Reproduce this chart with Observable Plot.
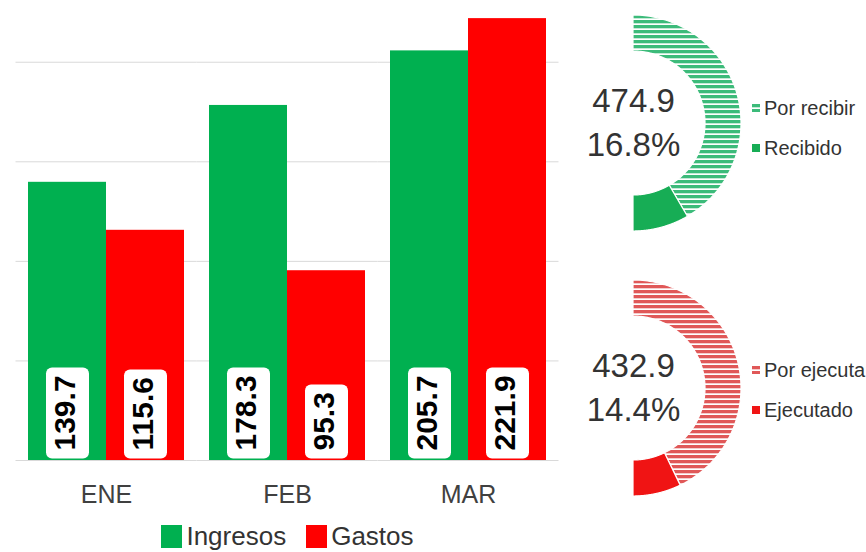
<!DOCTYPE html>
<html>
<head>
<meta charset="utf-8">
<script src="https://cdn.jsdelivr.net/npm/d3@7"></script>
<script src="https://cdn.jsdelivr.net/npm/@observablehq/plot@0.6"></script>
<style>
  body { margin: 0; background: #fff; }
  #root { position: relative; width: 866px; height: 552px; overflow: hidden; background: #fff; font-family: "Liberation Sans", Arial, sans-serif; }
  .abs { position: absolute; }
  .mlg-swatch > svg { margin-right: 4px; }
  .mlg-swatch { margin-right: 20px; }
  .mlg-swatch:last-child { margin-right: 0; }
  .glg0-swatch, .glg1-swatch { height: 40px; padding-bottom: 0; }
  .glg0-swatch > svg, .glg1-swatch > svg { margin-right: 4px; }
  .glg0-swatch-label, .glg1-swatch-label { overflow: visible !important; text-overflow: clip !important; }
</style>
</head>
<body>
<div id="root">
  <div id="bars" class="abs" style="left:0;top:0"></div>
  <div id="legend" class="abs" style="left:0;top:520px;width:575px;display:flex;justify-content:center"></div>
  <div id="g0" class="abs" style="left:560px;top:0"></div>
  <div id="g1" class="abs" style="left:560px;top:265px"></div>
  <div id="gl0" class="abs" style="left:752px;top:88px;width:200px"></div>
  <div id="gl1" class="abs" style="left:752px;top:350px;width:200px"></div>
</div>
<script>
// ---- data ----
const months = ["ENE", "FEB", "MAR"];
const series = ["Ingresos", "Gastos"];
const ingresos = [139.7, 178.3, 205.7];
const gastos = [115.6, 95.3, 221.9];
const yTicks = [0, 50, 100, 150, 200];
const barColors = ["#00b050", "#ff0000"];

const gaugeTotals = ["474.9", "432.9"];
const gaugePct = [16.8, 14.4];
const gaugeParts = [["Por recibir", "Recibido"], ["Por ejecutar", "Ejecutado"]];
const gaugeSolid = ["#17ad55", "#f01414"];
const gaugeStripe = ["#3cbb7a", "#e05858"];

const FONT = "Liberation Sans, Arial, sans-serif";

const table = months.flatMap((m, i) => [
  {month: m, series: series[0], value: ingresos[i]},
  {month: m, series: series[1], value: gastos[i]}
]);
const fmt = d => d.value.toFixed(1);

// measure label text to size the rounded boxes
const ctx = document.createElement("canvas").getContext("2d");
ctx.font = "bold 30px 'Liberation Sans', Arial, sans-serif";
const boxH = d => Math.round(ctx.measureText(fmt(d)).width + 16);

function boxSymbol(h, w = 43, r = 6, gap = 2) {
  return {
    draw(c) {
      const x0 = -w / 2, x1 = w / 2, y0 = -gap - h, y1 = -gap;
      c.moveTo(x0 + r, y0);
      c.arcTo(x1, y0, x1, y1, r);
      c.arcTo(x1, y1, x0, y1, r);
      c.arcTo(x0, y1, x0, y0, r);
      c.arcTo(x0, y0, x1, y0, r);
      c.closePath();
    }
  };
}

const boxMarks = d3.groups(table, boxH).map(([h, rows]) =>
  Plot.dot(rows, {fx: "month", x: "series", frameAnchor: "bottom", r: 10, symbol: boxSymbol(h), fill: "white", stroke: "none"})
);

const bars = Plot.plot({
  width: 570,
  height: 510,
  marginLeft: 15,
  marginRight: 10,
  marginTop: 0,
  marginBottom: 50,
  style: {fontFamily: FONT, fontSize: "25px", color: "#404040", background: "transparent", overflow: "visible"},
  fx: {domain: months, paddingInner: 0.138, paddingOuter: 0.072, axis: "bottom", tickSize: 0, tickPadding: 25, label: null},
  x: {domain: series, padding: 0, axis: null},
  y: {domain: [0, 231], axis: null},
  color: {domain: series, range: barColors},
  marks: [
    Plot.ruleY(yTicks, {y: d => d, stroke: "#d9d9d9", strokeWidth: 1, insetLeft: -12.5, insetRight: -12.5}),
    Plot.barY(table, {fx: "month", x: "series", y: "value", fill: "series"}),
    ...boxMarks,
    Plot.text(table, {fx: "month", x: "series", frameAnchor: "bottom", text: fmt, rotate: -90, textAnchor: "start", dx: 7, dy: -10, fontSize: 30, fontWeight: "bold", fill: "black"})
  ]
});
document.getElementById("bars").appendChild(bars);

const legend = Plot.legend({
  color: {domain: series, range: barColors},
  swatchWidth: 21, swatchHeight: 23,
  className: "mlg",
  style: {fontSize: "26px", fontFamily: FONT, color: "#333", margin: "0"}
});
document.getElementById("legend").appendChild(legend);

// ---- gauges ----
const RI = 72 / 108;
function gauge(i) {
  const p = gaugePct[i] / 100;
  const split = Math.PI * (1 - p);
  const parts = gaugeParts[i];
  const sector = (a0, a1, part) => d3.range(0, 121).map(k => {
    const t = a0 + (a1 - a0) * k / 120;
    return {part, x1: Math.sin(t), y1: Math.cos(t), x2: Math.sin(t) * RI, y2: Math.cos(t) * RI};
  });
  const pts = [...sector(0, split, parts[0]), ...sector(split, Math.PI, parts[1])];
  const pid = "hatch" + i;
  const defs = () => {
    const ns = "http://www.w3.org/2000/svg";
    const d = document.createElementNS(ns, "defs");
    d.innerHTML = `<pattern id="${pid}" patternUnits="userSpaceOnUse" width="8" height="5">
      <rect width="8" height="5" fill="#ffffff"></rect>
      <rect width="8" height="3.3" fill="${gaugeStripe[i]}"></rect></pattern>`;
    return d;
  };
  const range = [`url(#${pid})`, gaugeSolid[i]];
  const plot = Plot.plot({
    width: 306, height: 260,
    marginLeft: 73, marginRight: 125, marginTop: 15, marginBottom: 29,
    style: {fontFamily: FONT, background: "transparent", overflow: "visible"},
    x: {domain: [0, 1], axis: null},
    y: {domain: [-1, 1], axis: null},
    color: {domain: parts, range},
    marks: [
      defs,
      Plot.area(pts, {x1: "x1", y1: "y1", x2: "x2", y2: "y2", z: "part", fill: "part", stroke: "white", strokeWidth: 1.2}),
      Plot.text([gaugeTotals[i]], {frameAnchor: "left", text: d => d, dy: -22, fontSize: 33, textAnchor: "middle", fill: "#333"}),
      Plot.text([gaugePct[i]], {frameAnchor: "left", text: d => d.toFixed(1) + "%", dy: 22, fontSize: 33, textAnchor: "middle", fill: "#333"})
    ]
  });
  document.getElementById("g" + i).appendChild(plot);
  const lg = Plot.legend({
    color: {domain: parts, range},
    columns: 1,
    swatchSize: 8,
    className: "glg" + i,
    style: {fontSize: "20px", fontFamily: FONT, color: "#333", margin: "0"}
  });
  document.getElementById("gl" + i).appendChild(lg);
}
gauge(0);
gauge(1);
</script>
</body>
</html>
